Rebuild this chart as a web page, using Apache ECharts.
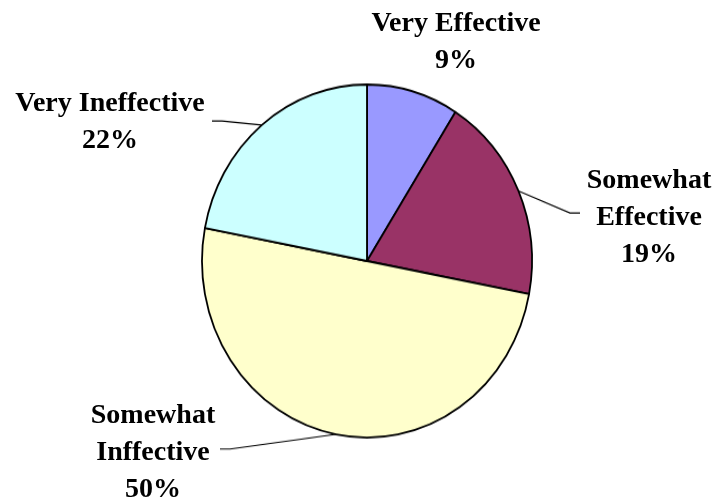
<!DOCTYPE html>
<html>
<head>
<meta charset="utf-8">
<script src="https://cdn.jsdelivr.net/npm/echarts@6/dist/echarts.min.js"></script>
<style>
html,body{margin:0;padding:0;background:#fff;}
#wrap{position:relative;width:717px;height:500px;overflow:hidden;background:#fff;}
#pie,#labels{position:absolute;left:0;top:0;width:717px;height:500px;}
#labels{pointer-events:none;}
</style>
</head>
<body>
<div id="wrap"><div id="pie"></div><div id="labels"></div></div>
<script>
// Data
var categories = ['Very Effective', 'Somewhat Effective', 'Somewhat Inffective', 'Very Ineffective'];
var values = [9, 19, 50, 22];
var sliceColors = ['#9999FF', '#993366', '#FFFFCC', '#CCFFFF'];

// Layout only
var CX = 367, CY = 261, RX = 165, RY = 176.5;
var K = RY / RX; // vertical stretch of the (elliptical) pie
var labelAnchors = [[456, 42], [649, 218], [153, 453], [110, 122]];
// label-side end of leader lines (visual coords): [elbow, end]; null = no line
var leaderEnds = [
  null,
  [[570, 213], [580, 213]],
  [[230, 449], [220, 449]],
  [[222, 121], [212, 121]]
];

document.getElementById('pie').style.transformOrigin = '0 ' + CY + 'px';
document.getElementById('pie').style.transform = 'scaleY(' + K + ')';

function toPieY(y) { return CY + (y - CY) / K; }

function fmt(p) {
  return p.name.replace('Somewhat ', 'Somewhat\n') + '\n' + Math.round(p.percent) + '%';
}

var labelFont = {
  fontFamily: 'Liberation Serif',
  fontWeight: 'bold',
  fontSize: 28,
  lineHeight: 37,
  align: 'center'
};

// Chart 1: the (stretched) pie and its leader lines
var pieChart = echarts.init(document.getElementById('pie'), null, {renderer: 'canvas'});
pieChart.setOption({
  animation: false,
  series: [{
    type: 'pie',
    center: [CX, CY],
    radius: RX,
    startAngle: 90,
    clockwise: true,
    data: categories.map(function (c, i) {
      return {name: c, value: values[i], itemStyle: {color: sliceColors[i]},
              labelLine: {show: leaderEnds[i] !== null}};
    }),
    itemStyle: {borderColor: '#000', borderWidth: 1.8},
    label: Object.assign({show: true, position: 'outside', formatter: fmt, color: 'rgba(0,0,0,0)'}, labelFont),
    labelLine: {show: true, length: 15, length2: 8, lineStyle: {color: '#000', width: 1.1}},
    labelLayout: function (params) {
      var i = params.dataIndex;
      var a = labelAnchors[i];
      var out = {x: a[0], y: toPieY(a[1]), align: 'center', verticalAlign: 'middle'};
      var ends = leaderEnds[i];
      if (ends && params.labelLinePoints) {
        var p0 = params.labelLinePoints[0];
        out.labelLinePoints = [
          [p0[0], p0[1]],
          [ends[0][0], toPieY(ends[0][1])],
          [ends[1][0], toPieY(ends[1][1])]
        ];
      }
      return out;
    },
    emphasis: {disabled: true}
  }]
});

// Chart 2: the label text, unstretched
var labelChart = echarts.init(document.getElementById('labels'), null, {renderer: 'canvas'});
labelChart.setOption({
  animation: false,
  series: [{
    type: 'pie',
    center: [CX, CY],
    radius: RX,
    startAngle: 90,
    clockwise: true,
    data: categories.map(function (c, i) { return {name: c, value: values[i]}; }),
    itemStyle: {color: 'rgba(0,0,0,0)', borderWidth: 0},
    label: Object.assign({show: true, position: 'outside', formatter: fmt, color: '#000'}, labelFont),
    labelLine: {show: false},
    labelLayout: function (params) {
      var a = labelAnchors[params.dataIndex];
      return {x: a[0], y: a[1], align: 'center', verticalAlign: 'middle'};
    },
    emphasis: {disabled: true},
    silent: true
  }]
});
</script>
</body>
</html>
